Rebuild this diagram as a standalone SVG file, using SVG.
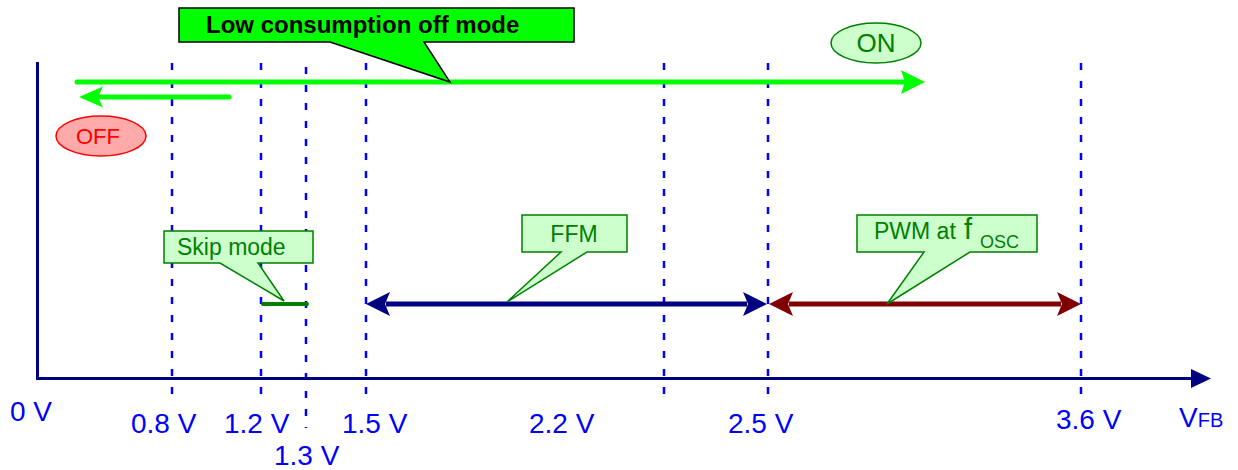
<svg xmlns="http://www.w3.org/2000/svg" width="1238" height="470" viewBox="0 0 1238 470">
<style>
text{font-family:"Liberation Sans",Arial,sans-serif}
.dash{stroke:#0000ff;stroke-width:2.5;stroke-dasharray:7 11;fill:none}
.axis{stroke:#000080;stroke-width:3;fill:none}
.lbl{fill:#0000ff;font-size:28px}
.call{fill:#ccffcc;stroke:#008000;stroke-width:1.5}
.ctxt{fill:#008000;font-size:23px}
</style>
<rect width="1238" height="470" fill="#ffffff"/>
<g id="grid">
<line class="dash" x1="172" y1="63" x2="172" y2="395"/>
<line class="dash" x1="261" y1="63" x2="261" y2="395"/>
<line class="dash" x1="306" y1="67" x2="306" y2="428"/>
<line class="dash" x1="366" y1="63" x2="366" y2="395"/>
<line class="dash" x1="664" y1="63" x2="664" y2="395"/>
<line class="dash" x1="768" y1="63" x2="768" y2="395"/>
<line class="dash" x1="1081" y1="63" x2="1081" y2="395"/>
</g>
<g id="axes">
<path class="axis" d="M37.5,62 V378.5 H1193"/>
<path d="M1191,369 L1211,378.5 L1191,388 Z" fill="#000080"/>
</g>
<g id="labels">
<text class="lbl" x="10" y="421">0 V</text>
<text class="lbl" x="131" y="433">0.8 V</text>
<text class="lbl" x="224" y="433">1.2 V</text>
<text class="lbl" x="274" y="465">1.3 V</text>
<text class="lbl" x="342" y="433">1.5 V</text>
<text class="lbl" x="529" y="433">2.2 V</text>
<text class="lbl" x="728" y="433">2.5 V</text>
<text class="lbl" x="1056" y="429">3.6 V</text>
<text class="lbl" x="1179" y="427">V<tspan font-size="20">FB</tspan></text>
</g>
<g id="connectors">
<line x1="77" y1="82" x2="905" y2="82" stroke="#00ff00" stroke-width="5" stroke-linecap="round"/>
<path d="M901,70 L925,82 L901,94 L905,82 Z" fill="#00ff00"/>
<line x1="229" y1="97" x2="98" y2="97" stroke="#00ff00" stroke-width="5" stroke-linecap="round"/>
<path d="M103,86.5 L79,97 L103,107.5 L98,97 Z" fill="#00ff00"/>
<line x1="263" y1="304" x2="307" y2="304" stroke="#008000" stroke-width="4" stroke-linecap="round"/>
<line x1="386" y1="304" x2="747" y2="304" stroke="#000080" stroke-width="5"/>
<path d="M390,292 L366,304 L390,316 L385,304 Z" fill="#000080"/>
<path d="M743,292 L767,304 L743,316 L748,304 Z" fill="#000080"/>
<line x1="789" y1="304" x2="1061" y2="304" stroke="#800000" stroke-width="5"/>
<path d="M793,292 L769,304 L793,316 L788,304 Z" fill="#800000"/>
<path d="M1057,292 L1081,304 L1057,316 L1062,304 Z" fill="#800000"/>
</g>
<g id="low-consumption">
<path d="M179,8 H574 V42 H424 L450,82 L330,42 H179 Z" fill="#00ff00" stroke="#000000" stroke-width="1.5"/>
<text x="206" y="33" font-size="24" font-weight="bold" fill="#000000">Low consumption off mode</text>
</g>
<g id="on">
<ellipse cx="876" cy="43" rx="45" ry="20" fill="#ccffcc" stroke="#008000" stroke-width="1.5"/>
<text x="876" y="52" font-size="26" fill="#008000" text-anchor="middle">ON</text>
</g>
<g id="off">
<ellipse cx="101" cy="136" rx="45" ry="20" fill="#ffaaaa" stroke="#ff0000" stroke-width="1.5"/>
<text x="98" y="144" font-size="22" fill="#ff0000" text-anchor="middle">OFF</text>
</g>
<g id="skip">
<path class="call" d="M164,231 H313 V263 H258 L284,301 L220,263 H164 Z"/>
<text class="ctxt" x="177" y="255" font-size="24">Skip mode</text>
</g>
<g id="ffm">
<path class="call" d="M522,215 H627 V252 H587 L507,302 L561,252 H522 Z"/>
<text class="ctxt" x="574" y="242" text-anchor="middle">FFM</text>
</g>
<g id="pwm">
<path class="call" d="M857,215 H1037 V252 H970 L887,304 L924,252 H857 Z"/>
<text class="ctxt" x="874" y="239">PWM at <tspan x="964" font-size="29">f</tspan><tspan x="980" y="248" font-size="18">OSC</tspan></text>
</g>
</svg>
